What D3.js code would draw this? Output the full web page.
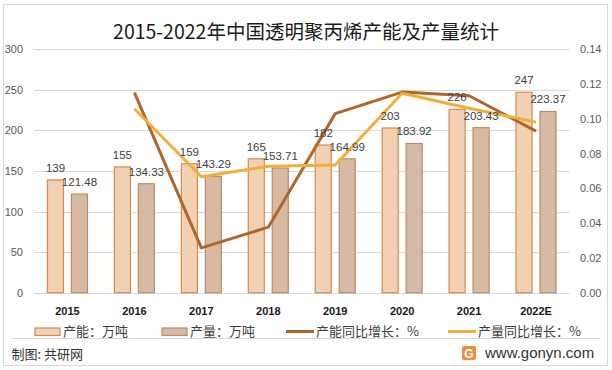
<!DOCTYPE html>
<html>
<head>
<meta charset="utf-8">
<script src="https://cdn.jsdelivr.net/npm/d3@7"></script>
<style>
	body { margin: 0; background: #fff; }
	svg { display: block; }
</style>
</head>
<body>
<div id="chart"></div>
<script>
//Chart data
const years = ['2015', '2016', '2017', '2018', '2019', '2020', '2021', '2022E'];
const capacity = [139, 155, 159, 165, 182, 203, 226, 247];
const output = [121.48, 134.33, 143.29, 153.71, 164.99, 183.92, 203.43, 223.37];
const capacityGrowth = [null, 0.1151, 0.0258, 0.0377, 0.1030, 0.1154, 0.1133, 0.0929];
const outputGrowth = [null, 0.1058, 0.0667, 0.0727, 0.0734, 0.1147, 0.1061, 0.0981];
const leftTicks = [0, 50, 100, 150, 200, 250, 300];
const rightTicks = [0, 0.02, 0.04, 0.06, 0.08, 0.10, 0.12, 0.14];

class ComboChart {
	constructor(_config) {
		this.config = {
			parentElement: _config.parentElement,
			containerWidth: 612,
			containerHeight: 370,
			plot: {left: 34, right: 569.5, top: 49.3, bottom: 292.7}
		};
		this.colors = {
			capFill: '#F2D0B4', capStroke: '#D48A4E',
			outFill: '#D7BAA3', outStroke: '#BF8A62',
			capLine: '#B0662B', outLine: '#F2AE3A',
			grid: '#D9D9D9', text: '#404040'
		};
		this.initVis();
	}

	initVis() {
		let vis = this;
		const p = vis.config.plot;

		vis.svg = d3.select(vis.config.parentElement).append('svg')
			.attr('width', vis.config.containerWidth)
			.attr('height', vis.config.containerHeight);

		//Outer frame and footer separator
		vis.svg.append('rect')
			.attr('x', 3.5).attr('y', 4.5)
			.attr('width', 604).attr('height', 361)
			.attr('fill', 'none')
			.attr('stroke', vis.colors.grid);

		vis.svg.append('line')
			.attr('x1', 11).attr('x2', 600)
			.attr('y1', 338.5).attr('y2', 338.5)
			.attr('stroke', vis.colors.grid);

		//Scales
		vis.xScale = d3.scaleBand()
			.domain(years)
			.range([p.left, p.right]);

		vis.xSub = d3.scaleBand()
			.domain(['capacity', 'output'])
			.range([-20.5, 20.5])
			.paddingInner(0.29);

		vis.yScale = d3.scaleLinear()
			.domain([0, 300])
			.range([p.bottom, p.top]);

		vis.yRight = d3.scaleLinear()
			.domain([0, 0.14])
			.range([p.bottom, p.top]);

		vis.xCenter = d => vis.xScale(d) + vis.xScale.bandwidth() / 2;

		//Title
		vis.svg.append('text')
			.attr('x', 306)
			.attr('y', 39)
			.attr('text-anchor', 'middle')
			.style('font-family', '"Noto Sans CJK SC", sans-serif')
			.style('font-size', '19.5px')
			.style('fill', '#1a1a1a')
			.text('2015-2022年中国透明聚丙烯产能及产量统计');

		vis.renderVis();
	}

	renderVis() {
		let vis = this;
		const p = vis.config.plot;
		const c = vis.colors;

		//Gridlines
		vis.svg.append('g')
			.selectAll('line')
			.data(leftTicks)
			.join('line')
			.attr('x1', p.left)
			.attr('x2', p.right)
			.attr('y1', d => Math.round(vis.yScale(d)) + 0.5)
			.attr('y2', d => Math.round(vis.yScale(d)) + 0.5)
			.attr('stroke', c.grid);

		//Left axis
		const yAxis = d3.axisLeft(vis.yScale)
			.tickValues(leftTicks)
			.tickSize(0)
			.tickPadding(0);
		vis.svg.append('g')
			.attr('class', 'y-axis')
			.attr('transform', 'translate(23,0)')
			.call(yAxis)
			.call(g => g.select('.domain').remove());

		//Right axis
		const yAxisRight = d3.axisRight(vis.yRight)
			.tickValues(rightTicks)
			.tickSize(0)
			.tickPadding(0)
			.tickFormat(d3.format('.2f'));
		vis.svg.append('g')
			.attr('class', 'y-axis')
			.attr('transform', 'translate(580,0)')
			.call(yAxisRight)
			.call(g => g.select('.domain').remove());

		vis.svg.selectAll('.y-axis text')
			.style('font-family', '"Liberation Sans", Arial, sans-serif')
			.style('font-size', '11px')
			.style('fill', '#595959');

		//Bottom axis with bold year labels
		const xAxis = d3.axisBottom(vis.xScale)
			.tickSize(0)
			.tickPadding(0);
		vis.svg.append('g')
			.attr('transform', `translate(0,${p.bottom + 14})`)
			.call(xAxis)
			.call(g => g.select('.domain').remove())
			.selectAll('text')
			.style('font-family', '"Liberation Sans", Arial, sans-serif')
			.style('font-size', '11px')
			.style('font-weight', 'bold')
			.style('fill', '#1a1a1a');

		const rows = years.map((y, i) => ({
			year: y, capacity: capacity[i], output: output[i]
		}));

		//Bars
		const bars = [
			{key: 'capacity', fill: c.capFill, stroke: c.capStroke},
			{key: 'output', fill: c.outFill, stroke: c.outStroke}
		];
		bars.forEach(b => {
			vis.svg.append('g')
				.selectAll('rect')
				.data(rows)
				.join('rect')
				.attr('x', d => vis.xCenter(d.year) + vis.xSub(b.key) + 0.5)
				.attr('y', d => vis.yScale(d[b.key]))
				.attr('width', vis.xSub.bandwidth() - 1)
				.attr('height', d => p.bottom - vis.yScale(d[b.key]))
				.attr('fill', b.fill)
				.attr('stroke', b.stroke)
				.attr('stroke-width', 1.2);
		});

		//Growth lines
		const lineGen = d3.line()
			.defined(d => d.v !== null)
			.x(d => vis.xCenter(d.year))
			.y(d => vis.yRight(d.v));

		[[capacityGrowth, c.capLine], [outputGrowth, c.outLine]].forEach(([arr, col]) => {
			vis.svg.append('path')
				.datum(years.map((y, i) => ({year: y, v: arr[i]})).filter(d => d.v !== null))
				.attr('d', lineGen)
				.attr('fill', 'none')
				.attr('stroke', col)
				.attr('stroke-width', 3)
				.attr('stroke-linejoin', 'round');
		});

		//Data labels above bars
		bars.forEach(b => {
			vis.svg.append('g')
				.selectAll('text')
				.data(rows)
				.join('text')
				.attr('x', d => vis.xCenter(d.year) + vis.xSub(b.key) + vis.xSub.bandwidth() / 2)
				.attr('y', d => vis.yScale(d[b.key]) - 8)
				.attr('text-anchor', 'middle')
				.style('font-family', '"Liberation Sans", Arial, sans-serif')
				.style('font-size', '11.5px')
				.style('fill', c.text)
				.text(d => d[b.key]);
		});

		//Legend
		const legendFont = '"Noto Sans CJK SC", sans-serif';
		const legend = [
			{x: 35, type: 'rect', fill: c.capFill, stroke: c.capStroke, label: '产能：万吨'},
			{x: 162, type: 'rect', fill: c.outFill, stroke: c.outStroke, label: '产量：万吨'},
			{x: 286, type: 'line', stroke: c.capLine, label: '产能同比增长：%'},
			{x: 448, type: 'line', stroke: c.outLine, label: '产量同比增长：%'}
		];
		const lg = vis.svg.append('g');
		legend.forEach(l => {
			if (l.type === 'rect') {
				lg.append('rect')
					.attr('x', l.x).attr('y', 328)
					.attr('width', 25).attr('height', 7.5)
					.attr('fill', l.fill)
					.attr('stroke', l.stroke)
					.attr('stroke-width', 1.2);
			} else {
				lg.append('line')
					.attr('x1', l.x).attr('x2', l.x + 28)
					.attr('y1', 331.5).attr('y2', 331.5)
					.attr('stroke', l.stroke)
					.attr('stroke-width', 3);
			}
			lg.append('text')
				.attr('x', l.x + (l.type === 'rect' ? 28 : 30))
				.attr('y', 336)
				.style('font-family', legendFont)
				.style('font-size', '13px')
				.style('fill', c.text)
				.text(l.label);
		});

		//Footer
		vis.svg.append('text')
			.attr('x', 11.5)
			.attr('y', 359)
			.style('font-family', legendFont)
			.style('font-size', '13px')
			.style('fill', '#333')
			.text('制图: 共研网');

		vis.svg.append('rect')
			.attr('x', 462).attr('y', 346)
			.attr('width', 14).attr('height', 14)
			.attr('rx', 2)
			.attr('fill', '#F28A3C');
		vis.svg.append('text')
			.attr('x', 469).attr('y', 357.5)
			.attr('text-anchor', 'middle')
			.style('font-family', '"Liberation Sans", Arial, sans-serif')
			.style('font-size', '12px')
			.style('font-weight', 'bold')
			.style('fill', '#fff')
			.text('G');

		vis.svg.append('text')
			.attr('x', 485)
			.attr('y', 358)
			.style('font-family', '"Liberation Sans", Arial, sans-serif')
			.style('font-size', '15px')
			.style('fill', '#333')
			.text('www.gonyn.com');
	}
}

new ComboChart({parentElement: '#chart'});
</script>
</body>
</html>
